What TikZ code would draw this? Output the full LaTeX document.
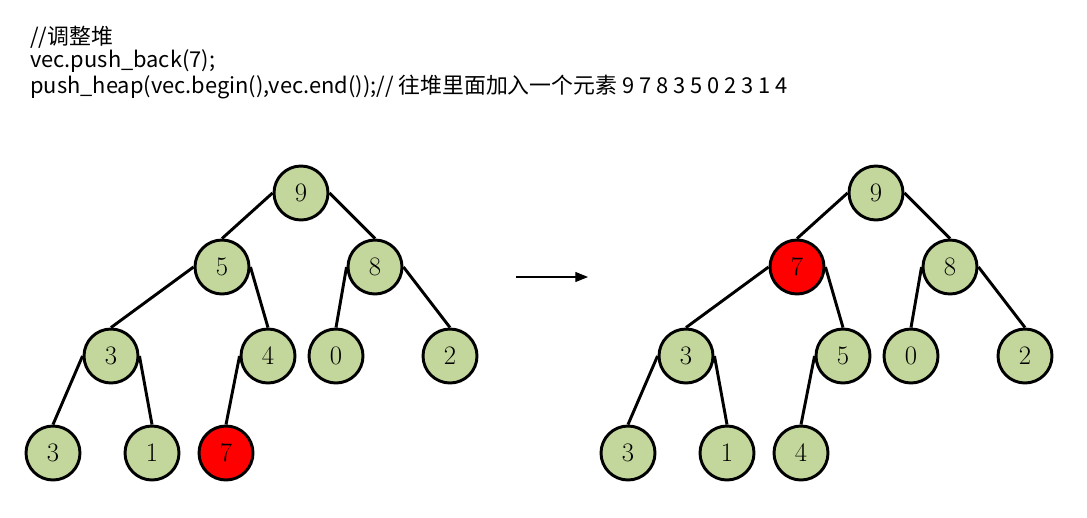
\documentclass[tikz,border=0pt]{standalone}
\usepackage{fontspec}
\newfontfamily\cjk{Noto Sans CJK SC}
\usetikzlibrary{arrows.meta,positioning}
\definecolor{heapgreen}{HTML}{C3D69B}
\definecolor{heapred}{HTML}{FF0000}
\tikzset{
    % --- Heap element (circle) ---
    elem/.style = {
        circle, draw=black, line width=2.2pt,
        fill=heapgreen, minimum size=40.5pt, inner sep=0pt,
        font=\fontsize{20}{20}\selectfont
    },
    % --- Newly inserted element ---
    new elem/.style = {
        elem, fill=heapred
    },
    % --- Tree edge ---
    edge line/.style = {
        line width=2.2pt
    },
    % --- Code comment line ---
    code/.style = {
        font=\cjk\fontsize{16.4}{16.4}\selectfont,
        anchor=west, inner sep=0pt
    },
    % --- Transition arrow ---
    step arrow/.style = {
        -{Triangle[length=9.5pt,width=7.5pt]}, line width=0.8pt
    }
}

\begin{document}
\begin{tikzpicture}[x=0.75pt, y=-0.75pt]

\useasboundingbox (0,0) rectangle (1087,517);

% ---------------------------------------------------------
% Code text
% ---------------------------------------------------------
\node[code] (code1) at (30,37) {//调整堆};
\node[code] (code2) at (30,61) {vec.push\_back(7);};
\node[code] (code3) at (30,87) {push\_heap(vec.begin(),vec.end());// 往堆里面加入一个元素 9 7 8 3 5 0 2 3 1 4};

% ---------------------------------------------------------
% Left heap (before adjusting)
% ---------------------------------------------------------
\node[elem] (L9) at (301,193) {9};
\node[elem] (L5) at (222,267) {5};
\node[elem] (L8) at (375,267) {8};
\node[elem] (L3) at (111,356) {3};
\node[elem] (L4) at (268,356) {4};
\node[elem] (L0) at (336,356) {0};
\node[elem] (L2) at (450,356) {2};
\node[elem] (L3b) at (53,453) {3};
\node[elem] (L1) at (152,453) {1};
\node[new elem] (L7) at (226,453) {7};

\draw[edge line] (L9.west) -- (L5.north);
\draw[edge line] (L9.east) -- (L8.north);
\draw[edge line] (L5.west) -- (L3.north);
\draw[edge line] (L5.east) -- (L4.north);
\draw[edge line] (L8.west) -- (L0.north);
\draw[edge line] (L8.east) -- (L2.north);
\draw[edge line] (L3.west) -- (L3b.north);
\draw[edge line] (L3.east) -- (L1.north);
\draw[edge line] (L4.west) -- (L7.north);

% ---------------------------------------------------------
% Arrow between the two heaps
% ---------------------------------------------------------
\coordinate (arrS) at (516,277);
\coordinate (arrE) at (588,277);
\draw[step arrow] (arrS) -- (arrE);

% ---------------------------------------------------------
% Right heap (after push_heap)
% ---------------------------------------------------------
\node[elem] (R9) at (876,193) {9};
\node[new elem] (R7) at (797,267) {7};
\node[elem] (R8) at (950,267) {8};
\node[elem] (R3) at (686,356) {3};
\node[elem] (R5) at (843,356) {5};
\node[elem] (R0) at (911,356) {0};
\node[elem] (R2) at (1025,356) {2};
\node[elem] (R3b) at (628,453) {3};
\node[elem] (R1) at (727,453) {1};
\node[elem] (R4) at (801,453) {4};

\draw[edge line] (R9.west) -- (R7.north);
\draw[edge line] (R9.east) -- (R8.north);
\draw[edge line] (R7.west) -- (R3.north);
\draw[edge line] (R7.east) -- (R5.north);
\draw[edge line] (R8.west) -- (R0.north);
\draw[edge line] (R8.east) -- (R2.north);
\draw[edge line] (R3.west) -- (R3b.north);
\draw[edge line] (R3.east) -- (R1.north);
\draw[edge line] (R5.west) -- (R4.north);

\end{tikzpicture}
\end{document}
